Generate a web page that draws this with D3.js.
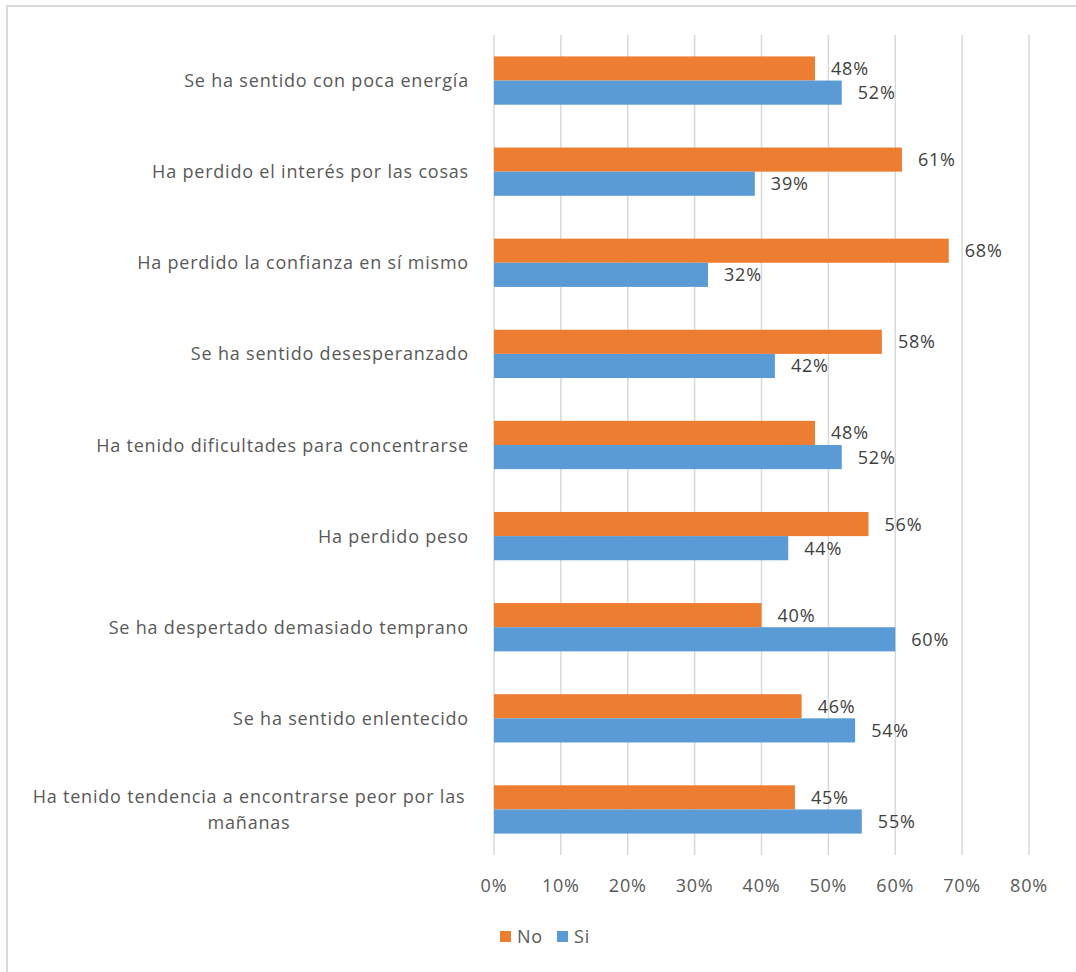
<!DOCTYPE html>
<html>
<head>
<meta charset="utf-8">
<script src="https://cdn.jsdelivr.net/npm/d3@7"></script>
<style>
  body { margin: 0; background: #fff; }
  svg text { font-family: "Open Sans", "Liberation Sans", sans-serif; letter-spacing: 0.8px; }
</style>
</head>
<body>
<div id="chart"></div>
<script>
// categories top to bottom
var categories = [
  'Se ha sentido con poca energía',
  'Ha perdido el interés por las cosas',
  'Ha perdido la confianza en sí mismo',
  'Se ha sentido desesperanzado',
  'Ha tenido dificultades para concentrarse',
  'Ha perdido peso',
  'Se ha despertado demasiado temprano',
  'Se ha sentido enlentecido',
  'Ha tenido tendencia a encontrarse peor por las mañanas'
];
var noValues = [0.48, 0.61, 0.68, 0.58, 0.48, 0.56, 0.40, 0.46, 0.45];
var siValues = [0.52, 0.39, 0.32, 0.42, 0.52, 0.44, 0.60, 0.54, 0.55];
var seriesNames = ['No', 'Si'];
var seriesColors = ['#ED7D31', '#5B9BD5'];
var xTicks = [0, 0.1, 0.2, 0.3, 0.4, 0.5, 0.6, 0.7, 0.8];

var width = 1076, height = 972;
var plot = { left: 494, right: 1029, top: 35, bottom: 855 };
var fontSize = 18;

var svg = d3.select('#chart').append('svg')
  .attr('width', width).attr('height', height);

// outer chart border (top and left visible)
svg.append('rect').attr('x', 7).attr('y', 6)
  .attr('width', 1100).attr('height', 1100)
  .attr('fill', '#fff').attr('stroke', '#d9d9d9').attr('stroke-width', 2);

var x = d3.scaleLinear().domain([0, 0.8]).range([plot.left, plot.right]);
var y = d3.scaleBand().domain(categories).range([plot.top, plot.bottom])
  .paddingInner(0.47).paddingOuter(0.235);
var ySub = d3.scaleBand().domain(seriesNames).range([0, y.bandwidth()]);

// gridlines
svg.append('g').selectAll('line').data(xTicks).enter().append('line')
  .attr('x1', function(d) { return x(d); })
  .attr('x2', function(d) { return x(d); })
  .attr('y1', plot.top).attr('y2', plot.bottom)
  .attr('stroke', '#d9d9d9').attr('stroke-width', 1.5);

// x axis tick labels
svg.append('g').selectAll('text').data(xTicks).enter().append('text')
  .attr('x', function(d) { return x(d); })
  .attr('y', 892)
  .attr('text-anchor', 'middle')
  .attr('font-size', fontSize).attr('fill', '#595959')
  .text(d3.format('.0%'));

var rows = categories.map(function(c, i) {
  return { cat: c, values: [noValues[i], siValues[i]] };
});

var group = svg.append('g').selectAll('g').data(rows).enter().append('g')
  .attr('transform', function(d) { return 'translate(0,' + y(d.cat) + ')'; });

group.selectAll('rect').data(function(d) {
  return d.values.map(function(v, k) { return { name: seriesNames[k], v: v, k: k }; });
}).enter().append('rect')
  .attr('x', x(0))
  .attr('y', function(d) { return ySub(d.name); })
  .attr('width', function(d) { return x(d.v) - x(0); })
  .attr('height', ySub.bandwidth())
  .attr('fill', function(d) { return seriesColors[d.k]; });

// data labels
group.selectAll('text.val').data(function(d) {
  return d.values.map(function(v, k) { return { name: seriesNames[k], v: v }; });
}).enter().append('text')
  .attr('class', 'val')
  .attr('x', function(d) { return x(d.v) + 16; })
  .attr('y', function(d) { return ySub(d.name) + ySub.bandwidth() / 2 + 6.5; })
  .attr('font-size', fontSize).attr('fill', '#404040')
  .text(function(d) { return d3.format('.0%')(d.v); });

// category labels, wrapped when long
var maxLabel = 455;
svg.append('g').selectAll('text').data(categories).enter().append('text')
  .attr('font-size', fontSize).attr('fill', '#595959')
  .each(function(d) {
    var t = d3.select(this);
    var cy = y(d) + y.bandwidth() / 2;
    t.attr('x', 469).attr('y', cy + 6.5).attr('text-anchor', 'end').text(d);
    if (this.getComputedTextLength() > maxLabel) {
      var words = d.split(' '), line1 = [], line2 = [];
      t.text('');
      words.forEach(function(w) {
        t.text(line1.concat([w]).join(' '));
        if (line2.length === 0 && this.getComputedTextLength() <= maxLabel) line1.push(w);
        else line2.push(w);
      }, this);
      var cx = 249;
      t.text(null).attr('text-anchor', 'middle');
      t.append('tspan').attr('x', cx).attr('y', cy - 6).text(line1.join(' '));
      t.append('tspan').attr('x', cx).attr('y', cy + 20).text(line2.join(' '));
    }
  });

// legend
var legend = svg.append('g').attr('transform', 'translate(500,931)');
var item = legend.selectAll('g').data(seriesNames).enter().append('g')
  .attr('transform', function(d, i) { return 'translate(' + (i * 57) + ',0)'; });
item.append('rect').attr('width', 11).attr('height', 11)
  .attr('fill', function(d, i) { return seriesColors[i]; });
item.append('text').attr('x', 17).attr('y', 12)
  .attr('font-size', fontSize).attr('fill', '#595959')
  .text(function(d) { return d; });
</script>
</body>
</html>
